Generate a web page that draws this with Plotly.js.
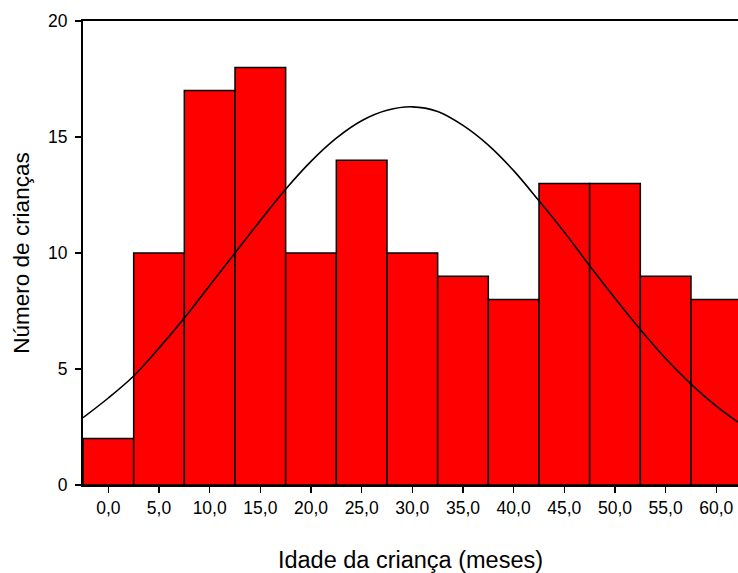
<!DOCTYPE html>
<html>
<head>
<meta charset="utf-8">
<script src="https://cdn.plot.ly/plotly-3.0.1.min.js"></script>
<style>html,body{margin:0;padding:0;background:#fff;}#chart{width:738px;height:573px;}</style>
</head>
<body>
<div id="chart"></div>
<script>
// Histogram bins (centers, months) and counts
const binCenters = [0, 5, 10, 15, 20, 25, 30, 35, 40, 45, 50, 55, 60];
const counts = [2, 10, 17, 18, 10, 14, 10, 9, 8, 13, 13, 9, 8];
// Normal curve
const curveX = [-2.5, 0, 2.5, 5, 7.5, 10, 12.5, 15, 17.5, 20, 22.5, 25, 27.5, 30, 32.5, 35, 37.5, 40, 42.5, 45, 47.5, 50, 52.5, 55, 57.5, 60, 62.5];
const curveY = [2.9, 3.75, 4.7, 5.9, 7.2, 8.6, 10.0, 11.4, 12.75, 13.95, 14.95, 15.7, 16.15, 16.3, 16.1, 15.5, 14.65, 13.55, 12.25, 10.9, 9.45, 8.05, 6.7, 5.45, 4.35, 3.4, 2.6];
const xTickVals = [0, 5, 10, 15, 20, 25, 30, 35, 40, 45, 50, 55, 60];
const xTickText = ["0,0", "5,0", "10,0", "15,0", "20,0", "25,0", "30,0", "35,0", "40,0", "45,0", "50,0", "55,0", "60,0"];
const yTickVals = [0, 5, 10, 15, 20];

const font = 'Arial, "Liberation Sans", sans-serif';

const data = [
  {
    type: 'bar',
    x: binCenters,
    y: counts,
    width: 5,
    marker: {color: '#ff0000', line: {color: '#000000', width: 1.5}},
    hoverinfo: 'skip'
  },
  {
    type: 'scatter',
    mode: 'lines',
    x: curveX,
    y: curveY,
    line: {color: '#000000', width: 1.6, shape: 'spline'},
    hoverinfo: 'skip'
  }
];

const layout = {
  width: 738,
  height: 573,
  margin: {l: 83, r: 0, t: 21, b: 88},
  paper_bgcolor: '#ffffff',
  plot_bgcolor: '#ffffff',
  showlegend: false,
  bargap: 0,
  font: {family: font, color: '#000000', size: 17.5},
  xaxis: {
    range: [-2.5, 62.14],
    tickvals: xTickVals,
    ticktext: xTickText,
    ticks: 'outside',
    ticklen: 6,
    tickwidth: 1.5,
    tickcolor: '#000',
    showline: true,
    linecolor: '#000',
    linewidth: 2,
    mirror: true,
    showgrid: false,
    zeroline: false,
    automargin: false,
    tickfont: {family: font, size: 17.5, color: '#000'},
    title: {text: 'Idade da criança (meses)', font: {family: font, size: 23.5, color: '#000'}, standoff: 36}
  },
  yaxis: {
    range: [0, 20],
    tickvals: yTickVals,
    ticks: 'outside',
    ticklen: 6,
    tickwidth: 1.5,
    tickcolor: '#000',
    ticklabelstandoff: 4,
    showline: true,
    linecolor: '#000',
    linewidth: 2,
    mirror: false,
    showgrid: false,
    zeroline: false,
    automargin: false,
    tickfont: {family: font, size: 17.5, color: '#000'},
    title: {text: 'Número de crianças', font: {family: font, size: 22.5, color: '#000'}, standoff: 12}
  }
};

Plotly.newPlot('chart', data, layout, {staticPlot: true, displayModeBar: false});
</script>
</body>
</html>
